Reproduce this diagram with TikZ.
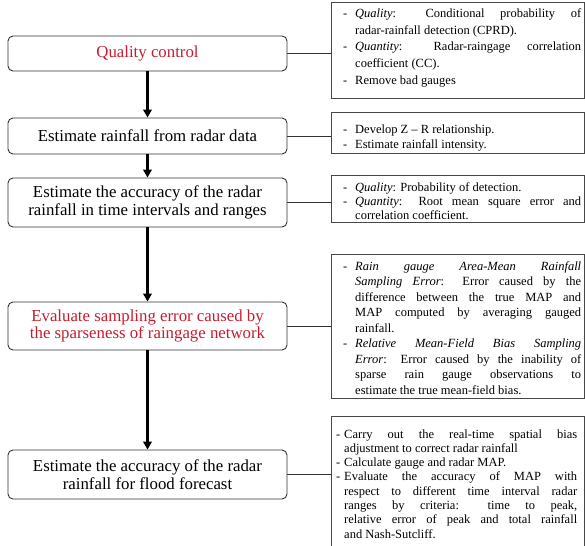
\documentclass[tikz,border=0pt]{standalone}
\usepackage{fontspec}
\setmainfont{Liberation Serif}
\usetikzlibrary{arrows.meta}
\definecolor{redtxt}{RGB}{196,30,48}
\tolerance=10000 \hyphenpenalty=10000 \hbadness=10000
\newcommand\bitem[2][12pt]{\par\noindent\hangindent=#1\hangafter=1\makebox[#1][l]{\rule{0pt}{9pt}-}#2\par}
\begin{document}
\begin{tikzpicture}[x=1pt,y=-1pt,
  lbox/.style={draw=black!80, line width=0.9pt, rounded corners=5pt, minimum width=279pt,
    inner sep=0pt, align=center, font=\fontsize{16.8}{17.7}\selectfont, fill=white},
  rbox/.style={draw=black!72, line width=1.3pt, anchor=north west, inner sep=0pt,
    minimum width=253pt, fill=white},
  rtxt/.style={anchor=north west, inner sep=0pt, text width=253pt, align=justify},
  arr/.style={line width=2.1pt, -{Triangle[length=8pt,width=8.5pt]}},
  conn/.style={line width=0.9pt, draw=black!80}]
\fill[white] (0,0) rectangle (585,545);
\path[use as bounding box, clip] (0,0) rectangle (585,545);

% left boxes
\node[lbox, minimum height=35pt] (b1) at (147.5,53.5) {\textcolor{redtxt}{Quality control}};
\node[lbox, minimum height=36pt] (b2) at (147.5,136) {Estimate rainfall from radar data};
\node[lbox, minimum height=49pt] (b3) at (147.5,202.5) {Estimate the accuracy of the radar\\rainfall in time intervals and ranges};
\node[lbox, minimum height=48pt, text=redtxt] (b4) at (147.5,326) {Evaluate sampling error caused by\\the sparseness of raingage network};
\node[lbox, minimum height=49pt] (b5) at (147.5,474.5) {Estimate the accuracy of the radar\\rainfall for flood forecast};

% right boxes
\node[rbox, minimum height=96pt] (r1) at (331,2) {};
\node[rbox, minimum height=41pt] (r2) at (331,112) {};
\node[rbox, minimum height=47pt] (r3) at (331,175) {};
\node[rbox, minimum height=144pt] (r4) at (331,254) {};
\node[rbox, minimum height=140pt] (r5) at (331,416) {};

% right texts
\node[rtxt, font=\fontsize{12.5}{16.6}\selectfont] (t1) at (331,1) {\leftskip=12pt\rightskip=3pt
\bitem{\textit{Quality}: Conditional probability of\linebreak radar-rainfall detection (CPRD).}
\bitem{\textit{Quantity}: Radar-raingage correlation\linebreak coefficient (CC).}
\bitem{Remove bad gauges}};

\node[rtxt, font=\fontsize{12.5}{15}\selectfont] (t2) at (331,118) {\leftskip=12pt\rightskip=3pt
\bitem{Develop Z – R relationship.}
\bitem{Estimate rainfall intensity.}};

\node[rtxt, font=\fontsize{12.5}{14}\selectfont] (t3) at (331,177.5) {\leftskip=12pt\rightskip=3pt
\bitem{\textit{Quality}: Probability of detection.}
\bitem{\textit{Quantity}: Root mean square error and\linebreak correlation coefficient.}};

\node[rtxt, font=\fontsize{12.5}{15.5}\selectfont] (t4) at (331,254.5) {\leftskip=12pt\rightskip=3pt
\bitem{\textit{Rain gauge Area-Mean Rainfall\linebreak Sampling Error}: Error caused by the\linebreak difference between the true MAP and\linebreak MAP computed by averaging gauged\linebreak rainfall.}
\bitem{\textit{Relative Mean-Field Bias Sampling\linebreak Error}: Error caused by the inability of\linebreak sparse rain gauge observations to\linebreak estimate the true mean-field bias.}};

\node[rtxt, font=\fontsize{12.5}{14.3}\selectfont] (t5) at (331,423.5) {\leftskip=5pt\rightskip=7pt
\bitem[8pt]{Carry out the real-time spatial bias\linebreak adjustment to correct radar rainfall}
\bitem[8pt]{Calculate gauge and radar MAP.}
\bitem[8pt]{Evaluate the accuracy of MAP with\linebreak respect to different time interval radar\linebreak ranges by criteria: time to peak,\linebreak relative error of peak and total rainfall\linebreak and Nash-Sutcliff.}};

% arrows
\draw[arr] (b1) -- (b2);
\draw[arr] (b2) -- (b3);
\draw[arr] (b3) -- (b4);
\draw[arr] (b4) -- (b5);

% connectors
\draw[conn] (b1.east) -- (b1.east -| r1.west);
\draw[conn] (b2.east) -- (b2.east -| r2.west);
\draw[conn] (b3.east) -- (b3.east -| r3.west);
\draw[conn] (b4.east) -- (b4.east -| r4.west);
\draw[conn] (b5.east) -- (b5.east -| r5.west);
\end{tikzpicture}
\end{document}
